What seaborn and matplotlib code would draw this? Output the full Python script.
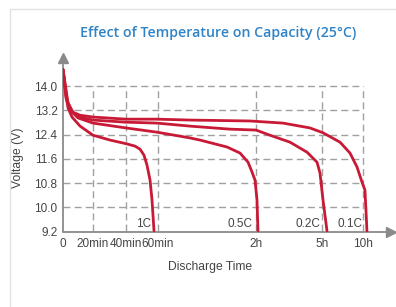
import numpy as np
import pandas as pd
import matplotlib
matplotlib.use("Agg")
import matplotlib.pyplot as plt
import seaborn as sns
from matplotlib.lines import Line2D

# -------------------------
# Data (time in hours, voltage in V)
# -------------------------
t_1c = [0.0, 0.033, 0.056, 0.10, 0.19, 0.333, 0.505, 0.667, 0.762, 0.815, 0.857, 0.889, 0.921, 0.942, 0.963]
v_1c = [14.55, 13.70, 13.28, 12.98, 12.68, 12.38, 12.22, 12.10, 12.02, 11.92, 11.72, 11.39, 10.90, 10.24, 9.22]

t_05c = [0.0, 0.033, 0.078, 0.167, 0.333, 0.667, 0.995, 1.33, 1.431, 1.706, 1.838, 1.919, 1.96, 1.99, 2.045, 2.09]
v_05c = [14.55, 13.61, 13.21, 12.95, 12.78, 12.62, 12.48, 12.29, 12.22, 11.99, 11.79, 11.49, 11.16, 10.90, 10.24, 9.22]

t_02c = [0.0, 0.044, 0.10, 0.19, 0.333, 0.667, 0.995, 1.33, 1.736, 2.0, 2.636, 3.545, 4.318, 4.773, 4.909, 5.122, 5.61]
v_02c = [14.55, 13.54, 13.14, 12.98, 12.88, 12.81, 12.78, 12.68, 12.58, 12.55, 12.38, 12.15, 11.82, 11.49, 11.13, 10.24, 9.22]

t_01c = [0.0, 0.056, 0.111, 0.19, 0.333, 0.667, 0.995, 1.33, 1.939, 3.227, 4.455, 5.122, 7.195, 8.415, 9.27, 9.88, 10.24, 10.37, 10.49]
v_01c = [14.55, 13.44, 13.14, 13.04, 12.98, 12.91, 12.91, 12.88, 12.85, 12.78, 12.62, 12.46, 12.15, 11.79, 11.33, 10.83, 10.57, 9.91, 9.22]

rates = ["1C", "0.5C", "0.2C", "0.1C"]
label_t = [0.857, 1.838, 4.36, 8.41]

y_ticks = [9.2, 10.0, 10.8, 11.6, 12.4, 13.2, 14.0]
x_ticks = [0, 1 / 3, 2 / 3, 1, 2, 5, 10]
x_tick_labels = ["0", "20min", "40min", "60min", "2h", "5h", "10h"]

df = pd.concat([
    pd.DataFrame({"t": t, "v": v, "rate": r})
    for t, v, r in zip([t_1c, t_05c, t_02c, t_01c], [v_1c, v_05c, v_02c, v_01c], rates)
])

# -------------------------
# Non-linear time axis (piecewise)
# -------------------------
T_KNOTS = [0, 1 / 3, 2 / 3, 1, 2, 5, 10, 15]
P_KNOTS = [0, 30, 63, 94.5, 193, 259, 300, 340]


def fwd(x):
    return np.interp(x, T_KNOTS, P_KNOTS)


def inv(p):
    return np.interp(p, P_KNOTS, T_KNOTS)


sns.set_style("white")
plt.rcParams["font.family"] = ["Liberation Sans", "DejaVu Sans"]

RED = "#c81a36"
GRID = "#a0a0a0"
AXIS = "#8a8a8a"
TXT = "#444444"

fig = plt.figure(figsize=(3.96, 3.07), dpi=100)
ax = fig.add_axes([63 / 396, 1 - 231.5 / 307, 328 / 396, 173.5 / 307])
ax.set_xscale("function", functions=(fwd, inv))

# grid
ax.hlines(y_ticks[1:], 0, 10, colors=GRID, linestyles=(0, (5, 3)), lw=1.0, zorder=1)
ax.vlines(x_ticks[1:], 9.2, 14.0, colors=GRID, linestyles=(0, (5, 3)), lw=1.0, zorder=1)

sns.lineplot(data=df, x="t", y="v", hue="rate", palette=[RED] * 4, sort=False,
             estimator=None, lw=2.0, legend=False, ax=ax, zorder=3)

for r, lt in zip(rates, label_t):
    ax.text(lt, 9.25, r, ha="center", va="bottom", fontsize=8.5, color=TXT, zorder=2)

ax.set_xlim(0, 13.5)
ax.set_ylim(9.2, 14.93)
ax.set_yticks(y_ticks, [f"{y:.1f}" for y in y_ticks])
ax.set_xticks(x_ticks, x_tick_labels)
ax.xaxis.set_minor_locator(matplotlib.ticker.NullLocator())
ax.tick_params(length=0, labelsize=8.5, labelcolor=TXT)
ax.tick_params(axis="y", pad=4)
ax.tick_params(axis="x", pad=5)

for s in ["top", "right"]:
    ax.spines[s].set_visible(False)
for s in ["left", "bottom"]:
    ax.spines[s].set_color(AXIS)
    ax.spines[s].set_linewidth(1.3)

ax.plot([1], [0], marker=">", ms=7, color=AXIS, transform=ax.transAxes, clip_on=False)
ax.plot([0], [1], marker="^", ms=7, color=AXIS, transform=ax.transAxes, clip_on=False)

ax.set_xlabel("Discharge Time", fontsize=8.7, color=TXT)
ax.xaxis.set_label_coords((210 - 63) / 328, -0.17)
ax.set_ylabel("Voltage (V)", fontsize=8.7, color=TXT)
ax.yaxis.set_label_coords((24 - 63) / 328, (231.5 - 158) / 173.5)

fig.text(218 / 396, 1 - 33 / 307, "Effect of Temperature on Capacity (25°C)",
         ha="center", va="center", fontsize=10.2, fontweight="semibold",
         family="Open Sans", color="#2f83c6")

# card border
fig.add_artist(Line2D([10 / 396, 1], [1 - 9 / 307] * 2, color="#e2e2e2", lw=1))
fig.add_artist(Line2D([10 / 396] * 2, [0, 1 - 9 / 307], color="#e2e2e2", lw=1))

fig.savefig("out.png", dpi=100)
